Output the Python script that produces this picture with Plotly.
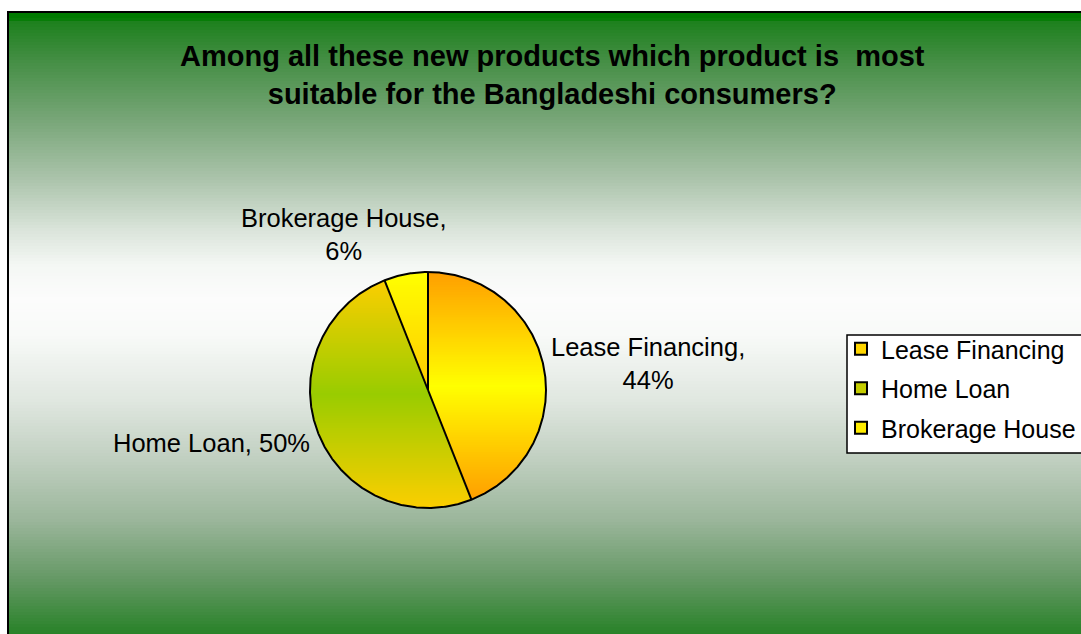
import numpy as np
import plotly.graph_objects as go

# ---- data -------------------------------------------------------------
title_lines = [
    "Among all these new products which product is\u00a0 most",
    "suitable for the Bangladeshi consumers?",
]
products = ["Lease Financing", "Home Loan", "Brokerage House"]
shares = [44, 50, 6]

# ---- styling ----------------------------------------------------------
W, H = 1081, 634
FONT = "Liberation Sans, Arial, Helvetica, sans-serif"

# pie placement (pixels) and scale: 1 data unit == 1 pie radius
CX, CY, R = 428.0, 390.0, 118.0

# gradient fills for each slice: (edge colour, centre colour, style)
slice_fills = [
    ((255, 158, 0), (255, 255, 0), "centre"),
    ((252, 206, 0), (153, 204, 0), "centre"),
    ((255, 255, 0), (255, 200, 0), "top-down"),
]
legend_colors = ["rgb(255,214,0)", "rgb(196,204,0)", "rgb(255,236,0)"]

# background colour stops (pixel row, rgb)
bg_rows = [12, 19, 21, 60, 120, 180, 230, 265, 300, 335, 400, 460, 520, 580, 634]
bg_cols = [(0, 122, 0), (0, 122, 0), (28, 128, 28), (68, 142, 68), (120, 166, 120),
           (172, 196, 172), (218, 228, 218), (244, 247, 244), (252, 252, 252),
           (248, 250, 248), (224, 231, 224), (192, 207, 192), (155, 182, 155),
           (100, 152, 100), (40, 130, 40)]


def rgb(c):
    return "rgb(%d,%d,%d)" % tuple(int(round(v)) for v in c)


def mix(a, b, t):
    return tuple(a[i] + (b[i] - a[i]) * t for i in range(3))


def clip(poly, y0, keep_above):
    out = []
    n = len(poly)
    for i in range(n):
        p, q = poly[i], poly[(i + 1) % n]
        ip = p[1] >= y0 if keep_above else p[1] <= y0
        iq = q[1] >= y0 if keep_above else q[1] <= y0
        if ip:
            out.append(p)
        if ip != iq:
            t = (y0 - p[1]) / (q[1] - p[1])
            out.append((p[0] + t * (q[0] - p[0]), y0))
    return out


fig = go.Figure()

# ---- slices: wedges built from the shares, filled in thin gradient bands
total = float(sum(shares))
start = 90.0
bounds = []
band = 2.5 / R
for share, (edge, centre, style) in zip(shares, slice_fills):
    sweep = 360.0 * share / total
    end = start - sweep
    bounds.append(start)
    ang = np.radians(np.linspace(start, end, max(8, int(sweep * 2))))
    poly = [(0.0, 0.0)] + list(zip(np.cos(ang), np.sin(ang)))
    ys = [p[1] for p in poly]
    lo, hi = min(ys), max(ys)
    mid = (lo + hi) / 2
    half = (hi - lo) / 2
    y = lo
    while y < hi:
        piece = clip(clip(poly, y, True), min(y + band * 1.35, hi), False)
        yc = y + band / 2
        if style == "centre":
            col = mix(centre, edge, min(1.0, abs(yc - mid) / half))
        else:
            col = mix(centre, edge, (yc - lo) / (hi - lo))
        if len(piece) >= 3:
            fig.add_trace(go.Scatter(
                x=[p[0] for p in piece] + [piece[0][0]],
                y=[p[1] for p in piece] + [piece[0][1]],
                fill="toself", fillcolor=rgb(col), mode="none",
                hoverinfo="skip", showlegend=False))
        y += band
    start = end

# outline: circle plus the radial edges between slices
t = np.radians(np.linspace(0, 360, 721))
ox = list(np.cos(t)) + [None]
oy = list(np.sin(t)) + [None]
for b in bounds:
    ox += [0.0, np.cos(np.radians(b)), None]
    oy += [0.0, np.sin(np.radians(b)), None]
fig.add_trace(go.Scatter(x=ox, y=oy, mode="lines",
                         line=dict(color="black", width=2),
                         hoverinfo="skip", showlegend=False))

# legend entries
for i, (name, col) in enumerate(zip(products, legend_colors)):
    fig.add_trace(go.Scatter(
        x=[None], y=[None], mode="markers", name=name, legendgroup=name,
        marker=dict(symbol="square", size=12, color=col,
                    line=dict(color="black", width=2))))

# ---- data labels ------------------------------------------------------
def px_to_data(px, py):
    return (px - CX) / R, (CY - py) / R

label_pos = [(648, 363, True), (211, 443, False), (344, 234, True)]
for name, share, (px, py, wrap) in zip(products, shares, label_pos):
    x, y = px_to_data(px, py)
    sep = ",<br>" if wrap else ", "
    fig.add_annotation(x=x, y=y, xref="x", yref="y",
                       text=f"{name}{sep}{share}%", showarrow=False,
                       font=dict(family=FONT, size=25.5, color="black"),
                       align="center", xanchor="center", yanchor="middle")

# title
fig.add_annotation(x=552 / W, y=1 - 75 / H, xref="paper", yref="paper",
                   text="<b>" + "<br>".join(title_lines) + "</b>",
                   showarrow=False, align="center",
                   xanchor="center", yanchor="middle",
                   font=dict(family=FONT, size=29, color="black"))

# ---- background: vertical green/white gradient inside a framed area ----
shapes = []
rows = np.arange(12, H + 3, 3)
for r0 in rows:
    c = [np.interp(r0 + 1.5, bg_rows, [col[k] for col in bg_cols]) for k in range(3)]
    shapes.append(dict(type="rect", xref="paper", yref="paper",
                       x0=8 / W, x1=1.05, y0=1 - (r0 + 3.6) / H, y1=1 - r0 / H,
                       fillcolor=rgb(c), line=dict(width=0), layer="below"))
shapes.append(dict(type="rect", xref="paper", yref="paper",
                   x0=8 / W, x1=1.1, y0=-0.1, y1=1 - 12 / H,
                   fillcolor="rgba(0,0,0,0)",
                   line=dict(color="black", width=2), layer="below"))
# legend frame, running past the right edge
shapes.append(dict(type="rect", xref="paper", yref="paper",
                   x0=847 / W, x1=1.1, y0=1 - 453 / H, y1=1 - 335 / H,
                   fillcolor="white", line=dict(color="black", width=1.5),
                   layer="below"))

x0, _ = px_to_data(0, 0)
x1, _ = px_to_data(W, 0)
_, yt = px_to_data(0, 0)
_, yb = px_to_data(0, H)

fig.update_layout(
    width=W, height=H,
    margin=dict(l=0, r=0, t=0, b=0, pad=0),
    paper_bgcolor="white", plot_bgcolor="rgba(0,0,0,0)",
    shapes=shapes,
    xaxis=dict(range=[x0, x1], visible=False, fixedrange=True),
    yaxis=dict(range=[yb, yt], visible=False, fixedrange=True),
    showlegend=True,
    legend=dict(x=1.0, y=1 - 326 / H, xanchor="right", yanchor="top",
                bgcolor="rgba(0,0,0,0)", borderwidth=0,
                font=dict(family=FONT, size=25, color="black"),
                tracegroupgap=4, traceorder="grouped", itemsizing="constant"),
    hovermode=False,
)

fig.write_html("out.html")
